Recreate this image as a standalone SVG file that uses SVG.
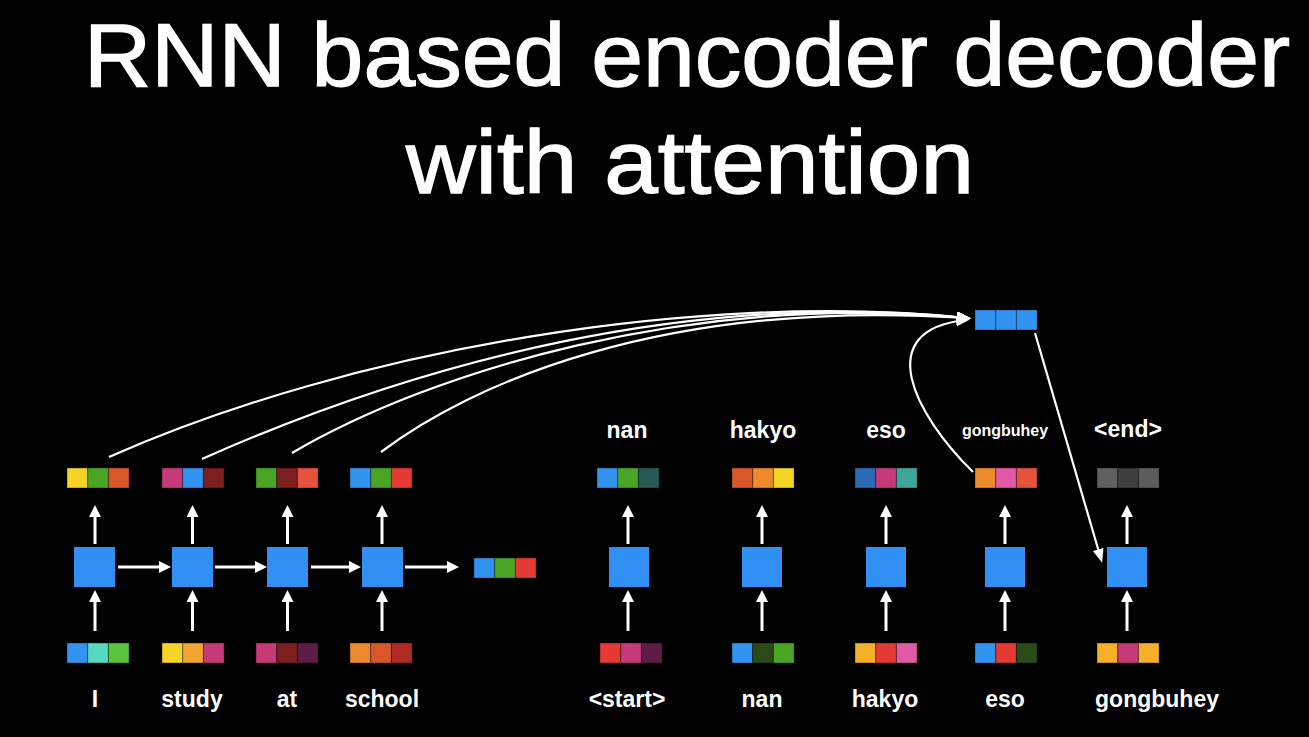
<svg xmlns="http://www.w3.org/2000/svg" width="1309" height="737" viewBox="0 0 1309 737">
<style>
.title{font-family:"Liberation Sans",Arial,sans-serif;font-size:89px;fill:#fff;stroke:#fff;stroke-width:1.4}
.lbl{font-family:"Liberation Sans",Arial,sans-serif;font-size:23px;font-weight:bold;fill:#fff;text-anchor:middle}
.sm{font-family:"Liberation Sans",Arial,sans-serif;font-size:16px;font-weight:bold;fill:#fff;text-anchor:middle}
.blk{fill:#2f8ff2}
.c{stroke:#000;stroke-opacity:0.35;stroke-width:1}
.arr{stroke:#fff;stroke-width:3;fill:none;marker-end:url(#h)}
.att{stroke:#fff;stroke-width:2.2;fill:none;marker-end:url(#ha)}
</style>
<defs>
<marker id="h" markerUnits="userSpaceOnUse" markerWidth="13" markerHeight="12" refX="4" refY="6" orient="auto"><path d="M0,0 L12,6 L0,12 z" fill="#fff"/></marker>
<marker id="ha" markerUnits="userSpaceOnUse" markerWidth="14" markerHeight="12" refX="10" refY="5.5" orient="auto"><path d="M0,0 L14,5.5 L0,11 z" fill="#fff"/></marker>
</defs>
<rect width="1309" height="737" fill="#000"/>
<g id="title">
<text class="title" x="84" y="86" textLength="1206" lengthAdjust="spacingAndGlyphs">RNN based encoder decoder</text>
<text class="title" x="406" y="193" textLength="568" lengthAdjust="spacingAndGlyphs">with attention</text>
</g>

<g id="connectors">
<line class="arr" x1="95" y1="544" x2="95" y2="513"/>
<line class="arr" x1="95" y1="631" x2="95" y2="598"/>
<line class="arr" x1="192.5" y1="544" x2="192.5" y2="513"/>
<line class="arr" x1="192.5" y1="631" x2="192.5" y2="598"/>
<line class="arr" x1="287.5" y1="544" x2="287.5" y2="513"/>
<line class="arr" x1="287.5" y1="631" x2="287.5" y2="598"/>
<line class="arr" x1="382" y1="544" x2="382" y2="513"/>
<line class="arr" x1="382" y1="631" x2="382" y2="598"/>
<line class="arr" x1="118" y1="567" x2="163" y2="567"/>
<line class="arr" x1="215" y1="567" x2="259" y2="567"/>
<line class="arr" x1="311" y1="567" x2="353" y2="567"/>
<line class="arr" x1="405" y1="567" x2="451" y2="567"/>
<line class="arr" x1="628" y1="544" x2="628" y2="513"/>
<line class="arr" x1="628" y1="631" x2="628" y2="598"/>
<line class="arr" x1="762" y1="544" x2="762" y2="513"/>
<line class="arr" x1="762" y1="631" x2="762" y2="598"/>
<line class="arr" x1="886" y1="544" x2="886" y2="513"/>
<line class="arr" x1="886" y1="631" x2="886" y2="598"/>
<line class="arr" x1="1005" y1="544" x2="1005" y2="513"/>
<line class="arr" x1="1005" y1="631" x2="1005" y2="598"/>
<line class="arr" x1="1127" y1="544" x2="1127" y2="513"/>
<line class="arr" x1="1127" y1="631" x2="1127" y2="598"/>
<path class="att" d="M109 457 C350 350 700 290 967 318"/>
<path class="att" d="M202 459 C420 362 690 290 967 318"/>
<path class="att" d="M292 453 C430 372 690 292 967 318"/>
<path class="att" d="M381 452 C470 385 660 298 967 318"/>
<path class="att" d="M973 472 C915 415 870 330 966 320"/>
<line class="att" x1="1035" y1="333" x2="1101" y2="559"/>
</g>

<g id="enc1">
<rect class="c" x="67" y="468" width="20.7" height="20" fill="#f5d327"/><rect class="c" x="87.7" y="468" width="20.7" height="20" fill="#4aa524"/><rect class="c" x="108.4" y="468" width="20.7" height="20" fill="#d9582b"/>
<rect class="blk" x="74" y="547" width="41" height="40"/>
<rect class="c" x="67" y="643" width="20.7" height="20" fill="#3393f0"/><rect class="c" x="87.7" y="643" width="20.7" height="20" fill="#55d9c0"/><rect class="c" x="108.4" y="643" width="20.7" height="20" fill="#5ac43a"/>
<text class="lbl" x="95" y="707">I</text>
</g>
<g id="enc2">
<rect class="c" x="162" y="468" width="20.7" height="20" fill="#c73a7a"/><rect class="c" x="182.7" y="468" width="20.7" height="20" fill="#3393f0"/><rect class="c" x="203.4" y="468" width="20.7" height="20" fill="#7e1f1f"/>
<rect class="blk" x="172" y="547" width="41" height="40"/>
<rect class="c" x="162" y="643" width="20.7" height="20" fill="#f5d327"/><rect class="c" x="182.7" y="643" width="20.7" height="20" fill="#f0a630"/><rect class="c" x="203.4" y="643" width="20.7" height="20" fill="#c73a7a"/>
<text class="lbl" x="192" y="707">study</text>
</g>
<g id="enc3">
<rect class="c" x="256" y="468" width="20.7" height="20" fill="#4aa524"/><rect class="c" x="276.7" y="468" width="20.7" height="20" fill="#7e1f1f"/><rect class="c" x="297.4" y="468" width="20.7" height="20" fill="#e5533f"/>
<rect class="blk" x="267" y="547" width="41" height="40"/>
<rect class="c" x="256" y="643" width="20.7" height="20" fill="#c73a7a"/><rect class="c" x="276.7" y="643" width="20.7" height="20" fill="#7e1f1f"/><rect class="c" x="297.4" y="643" width="20.7" height="20" fill="#5c1e45"/>
<text class="lbl" x="287" y="707">at</text>
</g>
<g id="enc4">
<rect class="c" x="350" y="468" width="20.7" height="20" fill="#3393f0"/><rect class="c" x="370.7" y="468" width="20.7" height="20" fill="#4aa524"/><rect class="c" x="391.4" y="468" width="20.7" height="20" fill="#e53a33"/>
<rect class="blk" x="362" y="547" width="41" height="40"/>
<rect class="c" x="350" y="643" width="20.7" height="20" fill="#ed8a2c"/><rect class="c" x="370.7" y="643" width="20.7" height="20" fill="#d9582b"/><rect class="c" x="391.4" y="643" width="20.7" height="20" fill="#b02b27"/>
<text class="lbl" x="382" y="707">school</text>
</g>
<g id="enc-final">
<rect class="c" x="474" y="558" width="20.7" height="20" fill="#3393f0"/><rect class="c" x="494.7" y="558" width="20.7" height="20" fill="#4aa524"/><rect class="c" x="515.4" y="558" width="20.7" height="20" fill="#e53a33"/>
</g>

<g id="dec1">
<text class="lbl" x="627" y="438">nan</text>
<rect class="c" x="597" y="468" width="20.7" height="20" fill="#3393f0"/><rect class="c" x="617.7" y="468" width="20.7" height="20" fill="#4aa524"/><rect class="c" x="638.4" y="468" width="20.7" height="20" fill="#285a55"/>
<rect class="blk" x="609" y="547" width="40" height="40"/>
<rect class="c" x="600" y="643" width="20.7" height="20" fill="#e53a33"/><rect class="c" x="620.7" y="643" width="20.7" height="20" fill="#c73a7a"/><rect class="c" x="641.4" y="643" width="20.7" height="20" fill="#5c1e45"/>
<text class="lbl" x="627" y="707">&lt;start&gt;</text>
</g>
<g id="dec2">
<text class="lbl" x="763" y="438">hakyo</text>
<rect class="c" x="732" y="468" width="20.7" height="20" fill="#d9582b"/><rect class="c" x="752.7" y="468" width="20.7" height="20" fill="#ed8a2c"/><rect class="c" x="773.4" y="468" width="20.7" height="20" fill="#f5d327"/>
<rect class="blk" x="742" y="547" width="40" height="40"/>
<rect class="c" x="732" y="643" width="20.7" height="20" fill="#3393f0"/><rect class="c" x="752.7" y="643" width="20.7" height="20" fill="#2a4a1a"/><rect class="c" x="773.4" y="643" width="20.7" height="20" fill="#4aa524"/>
<text class="lbl" x="762" y="707">nan</text>
</g>
<g id="dec3">
<text class="lbl" x="886" y="438">eso</text>
<rect class="c" x="855" y="468" width="20.7" height="20" fill="#2b6cb5"/><rect class="c" x="875.7" y="468" width="20.7" height="20" fill="#c73a7a"/><rect class="c" x="896.4" y="468" width="20.7" height="20" fill="#3fa59a"/>
<rect class="blk" x="866" y="547" width="40" height="40"/>
<rect class="c" x="855" y="643" width="20.7" height="20" fill="#f5b02a"/><rect class="c" x="875.7" y="643" width="20.7" height="20" fill="#e53a33"/><rect class="c" x="896.4" y="643" width="20.7" height="20" fill="#e05aa8"/>
<text class="lbl" x="885" y="707">hakyo</text>
</g>
<g id="dec4">
<text class="sm" x="1005" y="436">gongbuhey</text>
<rect class="c" x="975" y="468" width="20.7" height="20" fill="#ed8a2c"/><rect class="c" x="995.7" y="468" width="20.7" height="20" fill="#e05aa8"/><rect class="c" x="1016.4" y="468" width="20.7" height="20" fill="#e5533f"/>
<rect class="blk" x="985" y="547" width="40" height="40"/>
<rect class="c" x="975" y="643" width="20.7" height="20" fill="#3393f0"/><rect class="c" x="995.7" y="643" width="20.7" height="20" fill="#e53a33"/><rect class="c" x="1016.4" y="643" width="20.7" height="20" fill="#2a4a1a"/>
<text class="lbl" x="1005" y="707">eso</text>
</g>
<g id="dec5">
<text class="lbl" x="1128" y="437">&lt;end&gt;</text>
<rect class="c" x="1097" y="468" width="20.7" height="20" fill="#606060"/><rect class="c" x="1117.7" y="468" width="20.7" height="20" fill="#404040"/><rect class="c" x="1138.4" y="468" width="20.7" height="20" fill="#5c5c5c"/>
<rect class="blk" x="1107" y="547" width="40" height="40"/>
<rect class="c" x="1097" y="643" width="20.7" height="20" fill="#f5b02a"/><rect class="c" x="1117.7" y="643" width="20.7" height="20" fill="#c73a7a"/><rect class="c" x="1138.4" y="643" width="20.7" height="20" fill="#f5b02a"/>
<text class="lbl" x="1157" y="707">gongbuhey</text>
</g>
<g id="attention">
<rect class="c" x="975" y="310" width="20.7" height="20" fill="#3393f0"/><rect class="c" x="995.7" y="310" width="20.7" height="20" fill="#3393f0"/><rect class="c" x="1016.4" y="310" width="20.7" height="20" fill="#3393f0"/>
</g>
</svg>
